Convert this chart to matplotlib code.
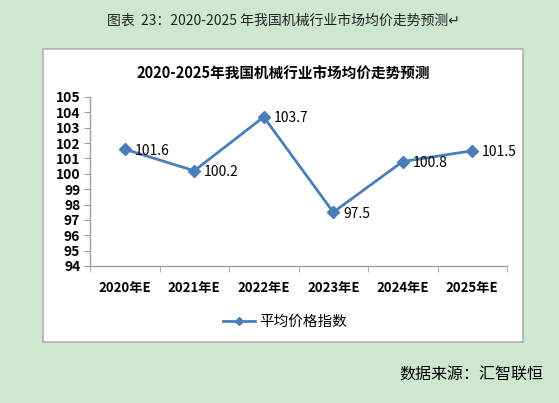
import matplotlib
matplotlib.use('Agg')
import matplotlib.pyplot as plt
from matplotlib.patches import Rectangle

plt.rcParams['font.family'] = ['Noto Sans CJK SC', 'DejaVu Sans']

# data
years = ['2020年E', '2021年E', '2022年E', '2023年E', '2024年E', '2025年E']
price_index = [101.6, 100.2, 103.7, 97.5, 100.8, 101.5]
y_ticks = list(range(94, 106))
series_name = '平均价格指数'

bg = '#cde8cf'
line_color = '#4a7ebb'

fig = plt.figure(figsize=(5.59, 4.03), dpi=100, facecolor=bg)

# white chart box, kept behind the axes
W, H = 559, 403
box = Rectangle((43 / W, 1 - 342 / H), 480 / W, 293 / H, transform=fig.transFigure,
                facecolor='white', edgecolor='#b0b0b0', linewidth=1.2, zorder=-5)
fig.patches.append(box)

fig.text(283 / W, 1 - 21 / H, '图表  23：2020-2025 年我国机械行业市场均价走势预测↵',
         ha='center', va='center', fontsize=10, color='#222222')
fig.text(283 / W, 1 - 74 / H, '2020-2025年我国机械行业市场均价走势预测',
         ha='center', va='center', fontsize=10.5, fontweight='bold', color='black')
fig.text(543 / W, 1 - 375 / H, '数据来源：汇智联恒', ha='right', va='center',
         fontsize=11.5, color='black')

ax = fig.add_axes([90 / W, 1 - 266 / H, 417 / W, 169 / H])
ax.set_facecolor('none')
x = list(range(len(years)))
ax.plot(x, price_index, color=line_color, linewidth=2, marker='D', markersize=6,
        label=series_name, clip_on=False)
for xi, v in zip(x, price_index):
    ax.annotate(f'{v}', (xi, v), xytext=(7, -1), textcoords='offset points',
                ha='left', va='center', fontsize=10, color='black')

ax.set_xlim(-0.5, len(years) - 0.5)
ax.set_ylim(94, 105)
ax.set_yticks(y_ticks)
ax.set_yticklabels([str(t) for t in y_ticks], fontsize=10, fontweight='bold')
ax.set_xticks(x)
ax.set_xticklabels(years, fontsize=9.5, fontweight='bold')
ax.set_xticks([i - 0.5 for i in range(len(years) + 1)], minor=True)
ax.tick_params(axis='x', which='major', length=0, pad=11)
ax.tick_params(axis='x', which='minor', length=4, direction='out', color='#a0a0a0')
ax.tick_params(axis='y', length=4, direction='out', color='#a0a0a0', pad=3)
for s in ['top', 'right']:
    ax.spines[s].set_visible(False)
for s in ['left', 'bottom']:
    ax.spines[s].set_color('#a0a0a0')
    ax.spines[s].set_linewidth(1)

leg = fig.legend(loc='center', bbox_to_anchor=(285 / W, 1 - 322 / H), frameon=False,
                 fontsize=10.5, handlelength=2.2, handletextpad=0.3, markerscale=0.75)

fig.savefig('out.png', dpi=100, facecolor=bg)
